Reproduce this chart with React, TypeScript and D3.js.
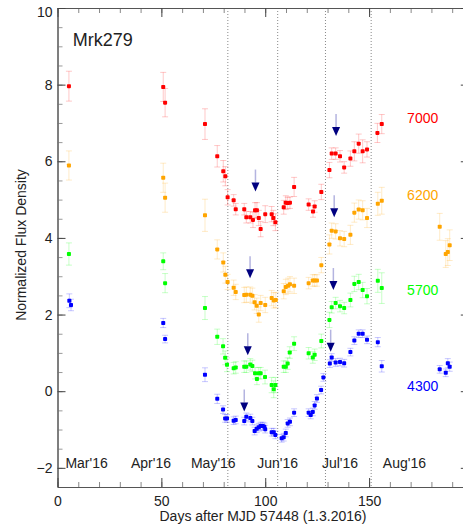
import React, { useRef, useEffect } from "react";
import * as d3 from "d3";

const W = 463;
const H = 529;

// [day, normalized flux, error]
const band7000 = [
  [5.5, 7.96, 0.39], [50.9, 7.94, 0.38], [51.8, 7.53, 0.37], [71.0, 6.97, 0.4],
  [76.9, 6.13, 0.28], [79.8, 5.74, 0.28], [80.8, 5.61, 0.25], [81.9, 5.06, 0.2],
  [84.8, 4.98, 0.15], [85.8, 4.75, 0.15], [89.9, 4.75, 0.15], [90.9, 4.54, 0.15],
  [92.8, 4.54, 0.15], [94.1, 4.47, 0.2], [95.1, 4.72, 0.2], [96.0, 4.72, 0.2],
  [96.9, 4.52, 0.2], [97.8, 4.23, 0.2], [100.0, 4.62, 0.22], [103.1, 4.62, 0.2],
  [103.9, 4.52, 0.2], [104.9, 4.41, 0.22], [108.9, 4.8, 0.18], [109.9, 4.92, 0.18],
  [110.8, 4.91, 0.15], [111.9, 4.92, 0.15], [113.9, 5.33, 0.25], [120.9, 4.87, 0.15],
  [123.0, 4.69, 0.15], [123.8, 4.82, 0.15], [127.0, 5.2, 0.2], [130.9, 5.77, 0.2],
  [132.0, 6.2, 0.15], [133.9, 6.2, 0.15], [136.0, 6.13, 0.15], [138.0, 5.84, 0.15],
  [141.0, 6.07, 0.2], [142.9, 6.26, 0.25], [145.0, 6.46, 0.25], [146.9, 6.26, 0.3],
  [149.0, 6.31, 0.2], [154.0, 6.74, 0.25], [156.1, 6.97, 0.25],
];

const band6200 = [
  [5.5, 5.89, 0.38], [50.9, 5.57, 0.38], [51.8, 5.05, 0.38], [71.0, 4.59, 0.42],
  [76.9, 3.7, 0.25], [79.8, 3.36, 0.25], [80.8, 3.04, 0.22], [81.9, 2.85, 0.2],
  [84.8, 2.7, 0.2], [85.8, 2.59, 0.2], [89.9, 2.51, 0.2], [90.9, 2.52, 0.2],
  [92.8, 2.52, 0.2], [93.8, 2.49, 0.2], [94.9, 2.32, 0.2], [95.9, 2.23, 0.2],
  [96.9, 2.0, 0.2], [97.8, 2.3, 0.2], [100.0, 2.25, 0.2], [103.1, 2.43, 0.2],
  [104.1, 2.37, 0.2], [105.1, 2.38, 0.2], [108.9, 2.61, 0.2], [109.9, 2.72, 0.2],
  [111.0, 2.75, 0.2], [111.9, 2.79, 0.2], [113.9, 2.75, 0.2], [120.9, 2.82, 0.15],
  [122.9, 2.89, 0.15], [123.8, 2.89, 0.15], [124.9, 2.89, 0.15], [127.0, 3.29, 0.2],
  [130.9, 3.83, 0.25], [132.0, 4.19, 0.2], [133.9, 4.17, 0.2], [136.0, 3.99, 0.2],
  [138.0, 3.97, 0.2], [141.0, 4.08, 0.25], [142.9, 4.66, 0.25], [145.0, 4.74, 0.25],
  [146.9, 4.72, 0.25], [149.0, 4.52, 0.25], [154.2, 4.89, 0.3], [156.1, 4.97, 0.35],
  [184.0, 4.29, 0.35], [186.9, 3.58, 0.35], [187.9, 3.63, 0.35], [188.8, 3.81, 0.4],
];

const band5700 = [
  [5.5, 3.58, 0.29], [50.9, 3.39, 0.22], [51.8, 2.82, 0.25], [71.0, 2.17, 0.3],
  [76.9, 1.42, 0.2], [79.7, 1.17, 0.2], [80.7, 0.87, 0.18], [81.6, 0.69, 0.18],
  [84.8, 0.6, 0.15], [85.8, 0.62, 0.15], [89.9, 0.64, 0.15], [90.9, 0.64, 0.15],
  [92.8, 0.7, 0.15], [93.8, 0.66, 0.15], [95.1, 0.47, 0.15], [96.0, 0.32, 0.15],
  [96.9, 0.47, 0.15], [97.8, 0.47, 0.15], [99.9, 0.37, 0.18], [103.1, 0.16, 0.2],
  [104.1, 0.05, 0.22], [104.9, 0.16, 0.2], [108.9, 0.64, 0.15], [109.9, 0.64, 0.15],
  [110.8, 0.72, 0.15], [111.8, 1.01, 0.15], [113.9, 1.24, 0.18], [120.9, 0.99, 0.15],
  [122.9, 0.88, 0.15], [123.8, 0.95, 0.15], [127.0, 1.31, 0.18], [130.9, 1.86, 0.2],
  [132.0, 2.19, 0.15], [133.9, 2.3, 0.15], [136.0, 2.22, 0.15], [138.0, 2.17, 0.15],
  [141.0, 2.38, 0.18], [142.9, 2.8, 0.2], [145.0, 2.85, 0.2], [146.9, 2.64, 0.2],
  [149.0, 2.48, 0.2], [154.2, 2.88, 0.3], [156.1, 2.69, 0.4],
];

const band4300 = [
  [5.7, 2.36, 0.18], [6.5, 2.25, 0.15], [50.9, 1.78, 0.12], [51.8, 1.36, 0.1],
  [71.0, 0.43, 0.18], [76.9, -0.2, 0.12], [79.7, -0.48, 0.1], [80.7, -0.71, 0.1],
  [81.6, -0.71, 0.1], [84.8, -0.77, 0.1], [85.8, -0.75, 0.1], [89.9, -0.78, 0.1],
  [90.9, -0.67, 0.1], [92.8, -0.7, 0.1], [93.8, -0.78, 0.1], [94.9, -1.04, 0.1],
  [95.9, -0.98, 0.1], [96.9, -0.94, 0.1], [97.8, -0.91, 0.1], [98.8, -0.91, 0.1],
  [99.6, -0.93, 0.1], [100.0, -0.99, 0.1], [103.1, -1.07, 0.1], [104.1, -1.07, 0.1],
  [104.9, -1.14, 0.1], [107.9, -1.23, 0.1], [108.9, -1.2, 0.1], [109.9, -1.09, 0.1],
  [110.8, -0.84, 0.1], [111.9, -0.8, 0.1], [113.9, -0.56, 0.1], [120.9, -0.56, 0.1],
  [121.9, -0.62, 0.1], [122.9, -0.54, 0.1], [123.8, -0.37, 0.1], [124.9, -0.19, 0.1],
  [126.9, 0.03, 0.1], [128.0, 0.36, 0.1], [131.1, 0.72, 0.1], [132.0, 0.88, 0.1],
  [133.9, 0.75, 0.1], [136.0, 0.76, 0.1], [138.0, 0.73, 0.1], [141.0, 1.02, 0.1],
  [142.9, 1.32, 0.1], [145.0, 1.5, 0.1], [146.9, 1.5, 0.1], [149.0, 1.34, 0.1],
  [154.2, 1.28, 0.12], [156.1, 0.65, 0.15], [184.0, 0.57, 0.1], [186.9, 0.48, 0.1],
  [187.9, 0.73, 0.12], [188.8, 0.64, 0.12],
];

const bands = [band7000, band6200, band5700, band4300];
const bandNames = ["7000", "6200", "5700", "4300"];
const bandColors = ["#ff0000", "#ffa500", "#00ff00", "#0000ff"];
const bandLabelFlux = [7.0, 5.0, 2.5, 0.0];
const bandLabelDay = 168.3;

// arrows: [day, flux at tip]
const arrows = [
  [95.3, 5.21], [134.1, 6.66],
  [92.7, 2.95], [133.2, 4.54],
  [91.6, 0.94], [132.8, 2.64],
  [89.9, -0.53], [131.5, 1.03],
];

const dottedDays = [82, 106, 129, 151];
const monthLabels = ["Mar'16", "Apr'16", "May'16", "Jun'16", "Jul'16", "Aug'16"];
const monthDays = [14, 45, 75, 106, 136, 167];
const xMajorTicks = [0, 50, 100, 150];
const yMajorTicks = [-2, 0, 2, 4, 6, 8, 10];

const FONT = "'Liberation Sans', Arial, Helvetica, sans-serif";

export default function App() {
  const svgRef = useRef(null);

  const x = d3.scaleLinear().domain([0, 198]).range([57.5, 468.8]);
  const y = d3.scaleLinear().domain([-2.5, 10]).range([487, 8]);

  useEffect(() => {
    const svg = d3.select(svgRef.current);
    const axes = svg.select(".axes");
    axes.selectAll("*").remove();

    const xMinor = d3.range(0, 199, 10);
    const yMinor = d3.range(-2.5, 10.01, 0.5);

    const style = (g, col) => {
      g.selectAll("path").attr("stroke", "#555");
      g.selectAll("line").attr("stroke", col);
      g.selectAll("text")
        .attr("font-family", FONT)
        .attr("font-size", 14)
        .attr("fill", "#222");
    };

    // minor ticks
    axes.append("g").attr("transform", `translate(0,${y(-2.5)})`)
      .call(d3.axisBottom(x).tickValues(xMinor).tickSize(-5).tickFormat(() => "").tickSizeOuter(0))
      .call((g) => style(g, "#888"));
    axes.append("g").attr("transform", `translate(0,${y(10)})`)
      .call(d3.axisTop(x).tickValues(xMinor).tickSize(-5).tickFormat(() => "").tickSizeOuter(0))
      .call((g) => style(g, "#888"));
    axes.append("g").attr("transform", `translate(${x(0)},0)`)
      .call(d3.axisLeft(y).tickValues(yMinor).tickSize(-5).tickFormat(() => "").tickSizeOuter(0))
      .call((g) => style(g, "#999"));
    axes.append("g").attr("transform", `translate(${x(198)},0)`)
      .call(d3.axisRight(y).tickValues(yMinor).tickSize(-5).tickFormat(() => "").tickSizeOuter(0))
      .call((g) => style(g, "#999"));

    // major ticks
    axes.append("g").attr("transform", `translate(0,${y(-2.5)})`)
      .call(d3.axisBottom(x).tickValues(xMajorTicks).tickSize(-9).tickPadding(9).tickSizeOuter(0))
      .call((g) => style(g, "#444"));
    axes.append("g").attr("transform", `translate(0,${y(10)})`)
      .call(d3.axisTop(x).tickValues(xMajorTicks).tickSize(-9).tickFormat(() => "").tickSizeOuter(0))
      .call((g) => style(g, "#444"));
    const left = axes.append("g").attr("transform", `translate(${x(0)},0)`)
      .call(d3.axisLeft(y).tickValues(yMajorTicks).tickSize(-8).tickPadding(5).tickSizeOuter(0))
      .call((g) => style(g, "#444"));
    left.selectAll(".tick text").filter((d) => d === 10).attr("dy", "0.6em");
    axes.append("g").attr("transform", `translate(${x(198)},0)`)
      .call(d3.axisRight(y).tickValues(yMajorTicks).tickSize(-8).tickFormat(() => "").tickSizeOuter(0))
      .call((g) => style(g, "#444"));
  }, []);

  return (
    <svg
      ref={svgRef}
      width={W}
      height={H}
      style={{ position: "absolute", left: 0, top: 0, background: "#fff" }}
    >
      {dottedDays.map((d) => (
        <line key={d} x1={x(d)} x2={x(d)} y1={y(10)} y2={y(-2.5)}
          stroke="#888" strokeWidth={1} strokeDasharray="1,2" />
      ))}

      {bands.map((pts, i) => (
        <g key={"err" + i} stroke={bandColors[i]} strokeOpacity={0.22} strokeWidth={1}>
          {pts.map((p, j) => (
            <g key={j}>
              <line x1={x(p[0])} x2={x(p[0])} y1={y(p[1] - p[2])} y2={y(p[1] + p[2])} />
              <line x1={x(p[0]) - 3} x2={x(p[0]) + 3} y1={y(p[1] - p[2])} y2={y(p[1] - p[2])} />
              <line x1={x(p[0]) - 3} x2={x(p[0]) + 3} y1={y(p[1] + p[2])} y2={y(p[1] + p[2])} />
            </g>
          ))}
        </g>
      ))}

      {bands.map((pts, i) => (
        <g key={"pt" + i} fill={bandColors[i]}>
          {pts.map((p, j) => (
            <rect key={j} x={x(p[0]) - 2} y={y(p[1]) - 2} width={4} height={4} rx={0.8} />
          ))}
        </g>
      ))}

      {arrows.map((a, i) => {
        const ax = x(a[0]);
        const ty = y(a[1]);
        return (
          <g key={"ar" + i}>
            <line x1={ax} x2={ax} y1={ty - 22} y2={ty - 9} stroke="#b4b4e0" strokeWidth={1.5} />
            <path d={`M${ax - 4},${ty - 9} L${ax + 4},${ty - 9} L${ax},${ty} Z`} fill="#000080" />
          </g>
        );
      })}

      <g className="axes" />

      <text x={72.7} y={46} fontFamily={FONT} fontSize={18} fill="#222">Mrk279</text>

      {bandNames.map((n, i) => (
        <text key={n} x={x(bandLabelDay)} y={y(bandLabelFlux[i])}
          fontFamily={FONT} fontSize={14} fill={bandColors[i]}>{n}</text>
      ))}

      {monthLabels.map((m, i) => (
        <text key={m} x={x(monthDays[i])} y={468.3} textAnchor="middle"
          fontFamily={FONT} fontSize={14} fill="#222">{m}</text>
      ))}

      <text x={263} y={521} textAnchor="middle" fontFamily={FONT} fontSize={14} fill="#222">
        Days after MJD 57448 (1.3.2016)
      </text>
      <text transform="translate(26,245) rotate(-90)" textAnchor="middle"
        fontFamily={FONT} fontSize={14} fill="#222">
        Normalized Flux Density
      </text>
    </svg>
  );
}
